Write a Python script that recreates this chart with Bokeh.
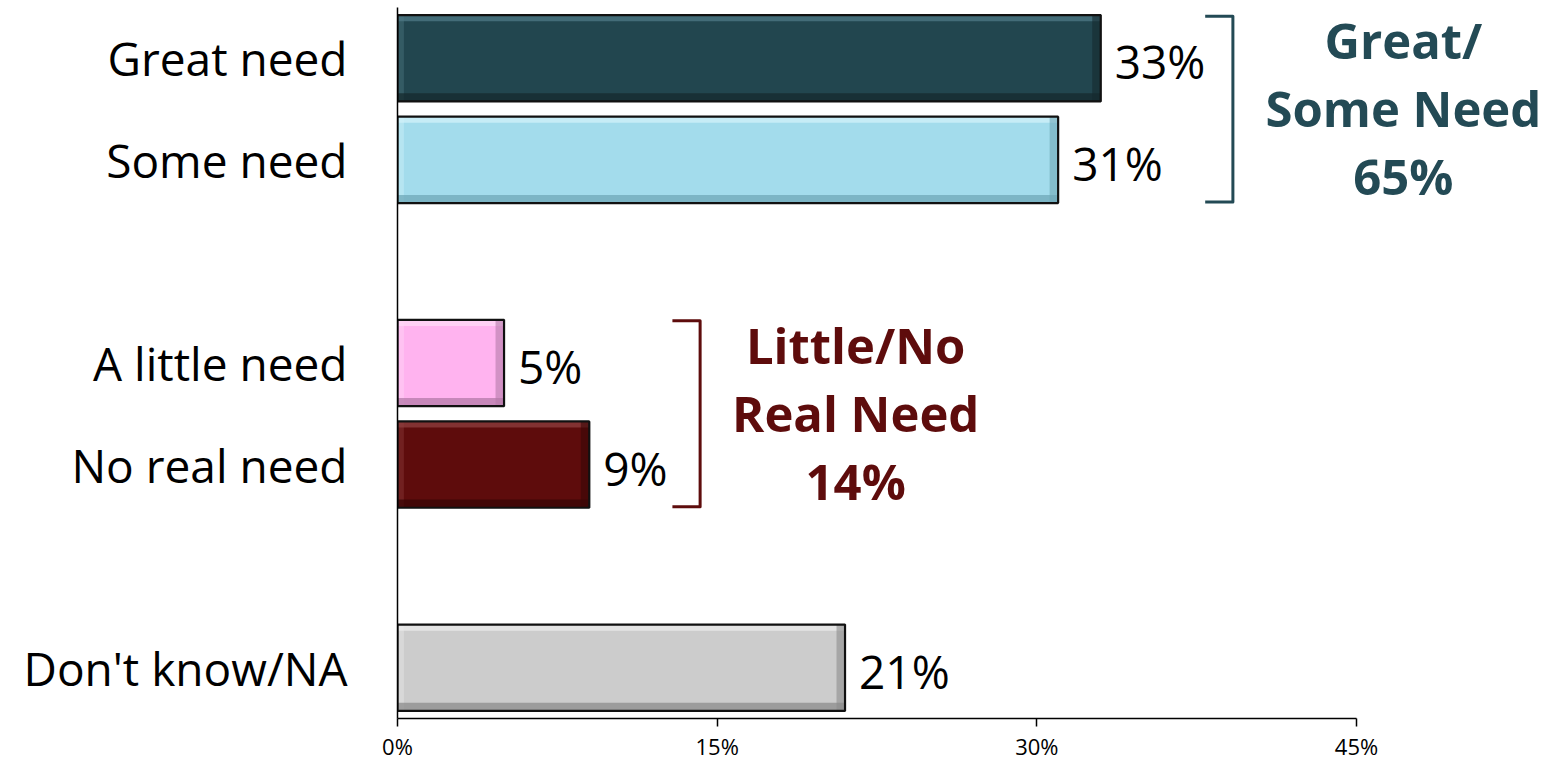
from bokeh.plotting import figure
from bokeh.models import FixedTicker, ColumnDataSource, Range1d
from bokeh.core.properties import value
from bokeh.embed import file_html
from bokeh.resources import INLINE

categories = ["Great need", "Some need", "A little need", "No real need", "Don't know/NA"]
values = [33, 31, 5, 9, 21]
positions = [6, 5, 3, 2, 0]
colors = ["#22464f", "#a3dcec", "#ffb3ef", "#5e0c0c", "#cccccc"]
light = ["#4f7a85", "#d2f2fa", "#ffd9f7", "#8f3f3f", "#ececec"]
dark = ["#15292e", "#6fa8b8", "#b47aa8", "#3a0606", "#8c8c8c"]
x_ticks = [0, 15, 30, 45]
group_labels = ["Great/", "Some Need", "65%"]
group2_labels = ["Little/No", "Real Need", "14%"]
group_colors = ["#234a55", "#5e0c0c"]

FONT = "Open Sans"
H = 0.85

p = figure(width=1552, height=763, output_backend="svg", toolbar_location=None,
           x_range=Range1d(0, 45 * (1547 - 397) / 959), y_range=Range1d(-0.5, 6.5),
           min_border_left=397, min_border_right=5, min_border_top=7, min_border_bottom=44)
p.outline_line_color = None
p.xgrid.grid_line_color = None
p.ygrid.grid_line_color = None

src = ColumnDataSource(dict(y=positions, v=values, c=colors, l=light, d=dark,
                            top=[y + H / 2 for y in positions],
                            bot=[y - H / 2 for y in positions],
                            hl=[y + H / 2 - 0.06 for y in positions],
                            sh=[y - H / 2 + 0.08 for y in positions],
                            rs=[v - 0.4 for v in values],
                            ls=[0.3 for v in values],
                            lab=[f"{v}%" for v in values]))

p.hbar(y="y", right="v", left=0, height=H, source=src, fill_color="c", line_color=None)
# bevel: top highlight, left highlight, bottom shadow, right shadow
p.quad(left=0, right="v", top="top", bottom="hl", source=src,
       fill_color="l", line_color=None, fill_alpha=0.75)
p.quad(left=0, right="ls", top="top", bottom="bot", source=src,
       fill_color="l", line_color=None, fill_alpha=0.4)
p.quad(left=0, right="v", top="sh", bottom="bot", source=src,
       fill_color="d", line_color=None, fill_alpha=0.75)
p.quad(left="rs", right="v", top="top", bottom="bot", source=src,
       fill_color="d", line_color=None, fill_alpha=0.6)
p.hbar(y="y", right="v", left=0, height=H, source=src, fill_color=None, line_color="#111111", line_width=2.2)

p.text(x="v", y="y", text="lab", source=src, x_offset=14, y_offset=3, text_baseline="middle",
       text_align="left", text_font=value(FONT), text_font_size="46px", text_color="black")

# brackets
def bracket(ys, xpos, color):
    top = max(ys) + H / 2 - 0.01
    bot = min(ys) - H / 2 + 0.01
    p.line([xpos - 1.3, xpos, xpos, xpos - 1.3], [top, top, bot, bot], line_color=color,
           line_width=3, line_join="round")

bracket(positions[0:2], 39.2, group_colors[0])
bracket(positions[2:4], 14.2, group_colors[1])

for i, t in enumerate(group_labels):
    p.text(x=[47.2], y=[6.18 - i * 0.67], text=[t], text_align="center", text_baseline="middle",
           text_font=value(FONT), text_font_style="bold", text_font_size="49px",
           text_color=group_colors[0])
for i, t in enumerate(group2_labels):
    p.text(x=[21.5], y=[3.18 - i * 0.67], text=[t], text_align="center", text_baseline="middle",
           text_font=value(FONT), text_font_style="bold", text_font_size="49px",
           text_color=group_colors[1])

p.xaxis.bounds = (0, 45)
p.xaxis.ticker = FixedTicker(ticks=x_ticks)
p.xaxis.major_label_overrides = {t: f"{t}%" for t in x_ticks}
p.xaxis.minor_tick_line_color = None
p.xaxis.major_tick_in = 0
p.xaxis.major_tick_out = 8
p.xaxis.axis_line_color = "black"
p.xaxis.axis_line_width = 1.5
p.xaxis.major_tick_line_width = 1.5
p.xaxis.major_label_text_font = FONT
p.xaxis.major_label_text_font_size = "22px"
p.xaxis.major_label_text_color = "black"
p.xaxis.major_label_standoff = 4

p.yaxis.ticker = FixedTicker(ticks=positions)
p.yaxis.major_label_overrides = {y: c for y, c in zip(positions, categories)}
p.yaxis.minor_tick_line_color = None
p.yaxis.major_tick_line_color = None
p.yaxis.major_tick_in = 0
p.yaxis.major_tick_out = 0
p.yaxis.axis_line_color = "black"
p.yaxis.axis_line_width = 1.5
p.yaxis.major_label_text_font = FONT
p.yaxis.major_label_text_font_size = "46px"
p.yaxis.major_label_text_color = "black"
p.yaxis.major_label_standoff = 50

open("out.html", "w").write(file_html(p, INLINE))
